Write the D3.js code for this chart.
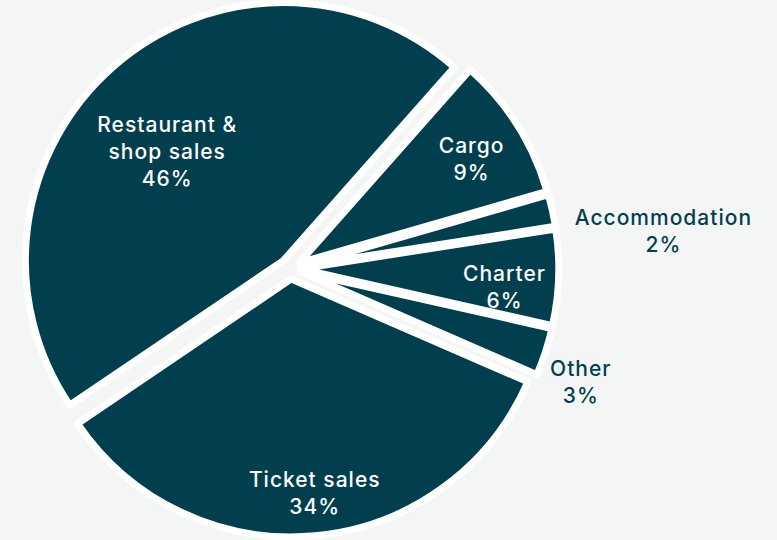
<!DOCTYPE html>
<html>
<head>
<meta charset="utf-8">
<script src="https://cdn.jsdelivr.net/npm/d3@7"></script>
<style>
  html, body { margin: 0; padding: 0; background: #f4f6f6; }
  svg { display: block; }
  .slice-label {
    font-family: Inter, "Open Sans", sans-serif;
    font-weight: 500;
    font-size: 21px;
    letter-spacing: 1px;
  }
</style>
</head>
<body>
<svg id="chart" width="777" height="540"></svg>
<script>
// data, clockwise from the top-right slice
const categories = ["Cargo", "Accommodation", "Charter", "Other", "Ticket sales", "Restaurant & shop sales"];
const shares = [9, 2, 6, 3, 34, 46];
const labelLines = [["Cargo"], ["Accommodation"], ["Charter"], ["Other"], ["Ticket sales"], ["Restaurant &", "shop sales"]];
const labelInside = [true, false, true, false, true, true];

// label placement: distance from centre + small angle nudge (deg)
const labelRadius = [212, 375, 215, 312, 226, 170];
const labelNudge = [1.1, 6.7, 3.0, 3.3, -0.9, -5.1];

const width = 777, height = 540;
const cx = 290.3, cy = 268.5;
const radius = 258;
const explode = 10.5; // every slice pushed out a bit
const sliceColor = "#023f4e";
const lineHeight = 27;

const deg = Math.PI / 180;
const startAngle = 41.5 * deg;

const svg = d3.select("#chart");
svg.append("rect").attr("width", width).attr("height", height).attr("fill", "#f4f6f6");

const pie = d3.pie().sort(null).value(d => d.value)
  .startAngle(startAngle).endAngle(startAngle + 2 * Math.PI);
const arc = d3.arc().innerRadius(0).outerRadius(radius);

const rows = categories.map((c, i) => ({ name: c, value: shares[i], idx: i }));
const arcs = pie(rows);

const g = svg.append("g").attr("transform", `translate(${cx},${cy})`);

// slices
g.selectAll("path.slice")
  .data(arcs)
  .join("path")
  .attr("class", "slice")
  .attr("d", arc)
  .attr("fill", sliceColor)
  .attr("stroke", "#ffffff")
  .attr("stroke-width", 7)
  .attr("stroke-linejoin", "round")
  .attr("transform", d => {
    const a = (d.startAngle + d.endAngle) / 2;
    return `translate(${explode * Math.sin(a)},${-explode * Math.cos(a)})`;
  });

// labels
g.selectAll("text.slice-label")
  .data(arcs)
  .join("text")
  .attr("class", "slice-label")
  .attr("text-anchor", "middle")
  .attr("fill", d => labelInside[d.data.idx] ? "#ffffff" : sliceColor)
  .each(function (d) {
    const i = d.data.idx;
    const a = (d.startAngle + d.endAngle) / 2 + labelNudge[i] * deg;
    const x = labelRadius[i] * Math.sin(a);
    const y = -labelRadius[i] * Math.cos(a);
    const lines = labelLines[i].concat([`${d.data.value}%`]);
    const n = lines.length;
    d3.select(this).selectAll("tspan")
      .data(lines)
      .join("tspan")
      .attr("x", x)
      .attr("y", (_, k) => y + (k - (n - 1) / 2) * lineHeight + 7.6)
      .text(t => t);
  });
</script>
</body>
</html>
